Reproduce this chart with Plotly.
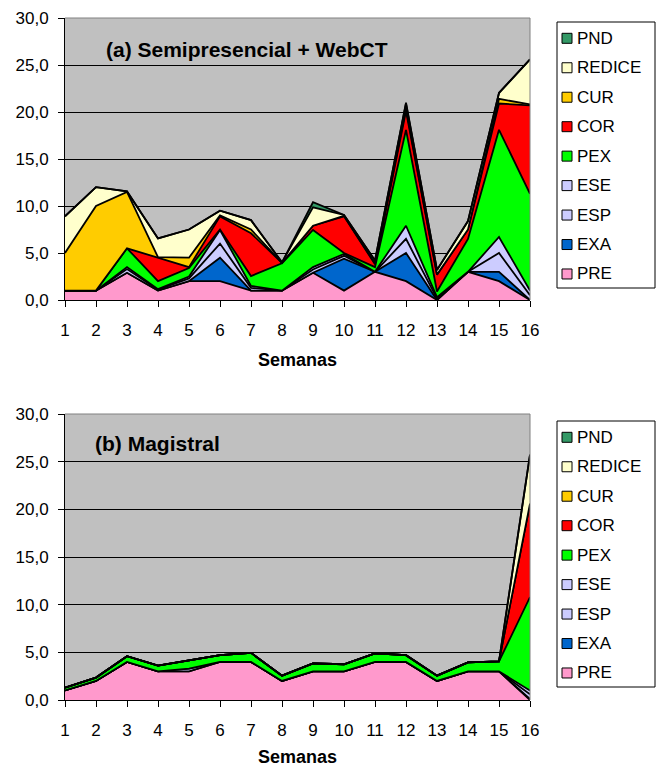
import plotly.graph_objects as go

W, H = 658, 769
FONT = "Liberation Sans, Arial, sans-serif"

weeks = list(range(1, 17))
week_labels = [str(w) for w in weeks]
y_ticks = [0, 5, 10, 15, 20, 25, 30]

series_names = ["PRE", "EXA", "ESP", "ESE", "PEX", "COR", "CUR", "REDICE", "PND"]
series_colors = ["#FF99CC", "#0066CC", "#CCCCFF", "#CCCCFF", "#00FF00",
                 "#FF0000", "#FFCC00", "#FFFFCC", "#339966"]

# (a) Semipresencial + WebCT
a_PRE = [1, 1, 2.9, 1, 2, 2, 1, 1, 2.9, 1, 3, 2, 0, 3, 2, 0]
a_EXA = [0, 0, 0, 0, 0, 2.5, 0, 0, 0, 3.4, 0, 3, 0, 0, 1, 0]
a_ESP = [0, 0, 0.4, 0.1, 0.3, 1.5, 0.3, 0, 0.35, 0.3, 0, 1.5, 0.15, 0, 2, 0.5]
a_ESE = [0, 0, 0.2, 0.05, 0.2, 1.45, 0.2, 0, 0.25, 0.2, 0, 1.4, 0.15, 0, 1.7, 0.5]
a_PEX = [0, 0, 2.0, 0.85, 0.9, 0.05, 1.05, 2.9, 3.95, 0.1, 0.5, 10.2, 0.6, 3.5, 11.4, 10.3]
a_COR = [0, 0, 0, 2.5, 0.1, 1.4, 4.55, 0.05, 0.45, 3.9, 0.3, 2.0, 1.8, 1.0, 2.8, 9.4]
a_CUR = [4, 9, 6.0, 0.05, 1.0, 0.1, 0.4, 0, 0, 0.05, 0.1, 0.3, 0, 0, 0.5, 0.1]
a_REDICE = [3.9, 2, 0.05, 2.0, 3.0, 0.5, 1.0, 0.05, 1.95, 0.1, 0.3, 0.5, 0.5, 0.9, 0.6, 4.8]
a_PND = [0, 0, 0, 0, 0, 0, 0, 0, 0.55, 0, 0, 0.1, 0, 0, 0.05, 0]

# (b) Magistral
b_PRE = [1, 2, 4, 3, 3, 4, 4, 2, 3, 3, 4, 4, 2, 3, 3, 0]
b_EXA = [0, 0, 0, 0, 0, 0, 0, 0, 0, 0, 0, 0, 0, 0, 0, 0.1]
b_ESP = [0, 0, 0, 0, 0.3, 0, 0, 0, 0, 0, 0, 0, 0, 0, 0, 0.5]
b_ESE = [0, 0, 0, 0, 0, 0, 0, 0, 0, 0, 0, 0, 0, 0, 0, 0.4]
b_PEX = [0.3, 0.35, 0.6, 0.6, 0.85, 0.7, 0.95, 0.55, 0.85, 0.75, 0.9, 0.7, 0.55, 0.95, 1.05, 9.8]
b_COR = [0, 0, 0, 0, 0, 0, 0, 0, 0, 0, 0, 0, 0, 0, 0, 9.8]
b_CUR = [0, 0, 0, 0, 0, 0, 0, 0, 0, 0, 0, 0, 0, 0, 0, 0]
b_REDICE = [0, 0, 0, 0, 0, 0, 0, 0, 0, 0, 0, 0, 0, 0, 0, 5.1]
b_PND = [0, 0, 0, 0, 0, 0, 0, 0, 0, 0, 0, 0, 0, 0, 0, 0.05]

data_a = [a_PRE, a_EXA, a_ESP, a_ESE, a_PEX, a_COR, a_CUR, a_REDICE, a_PND]
data_b = [b_PRE, b_EXA, b_ESP, b_ESE, b_PEX, b_COR, b_CUR, b_REDICE, b_PND]

titles = ["(a) Semipresencial + WebCT", "(b) Magistral"]


def px_x(v):
    return v / W


def px_y(v):
    return 1 - v / H


fig = go.Figure()

for name, color, vals in zip(series_names, series_colors, data_a):
    fig.add_trace(go.Scatter(
        x=weeks, y=vals, name=name, stackgroup="a", mode="lines",
        line=dict(color="black", width=1.8), fillcolor=color,
        xaxis="x", yaxis="y", showlegend=False, hoverinfo="skip"))

for name, color, vals in zip(series_names, series_colors, data_b):
    fig.add_trace(go.Scatter(
        x=weeks, y=vals, name=name, stackgroup="b", mode="lines",
        line=dict(color="black", width=1.8), fillcolor=color,
        xaxis="x2", yaxis="y2", showlegend=False, hoverinfo="skip"))

# plot areas (pixel boxes)
panels = [
    dict(left=65, right=530, top=18, bottom=300),
    dict(left=65, right=530, top=414, bottom=700),
]

xa = dict(range=[1, 16], tickvals=weeks, ticktext=week_labels, ticks="outside",
          ticklen=6, tickcolor="black", showline=True, linecolor="black",
          linewidth=1, showgrid=False, zeroline=False, fixedrange=True,
          tickfont=dict(family=FONT, size=17, color="black"),
          ticklabelstandoff=9, automargin=False)
ya = dict(range=[0, 30], tickvals=y_ticks, tickformat=".1f", ticks="outside",
          ticklen=6, tickcolor="black", showline=True, linecolor="black",
          linewidth=1, showgrid=True, gridcolor="black", gridwidth=1,
          zeroline=False, fixedrange=True,
          tickfont=dict(family=FONT, size=17, color="black"),
          ticklabelstandoff=6, automargin=False)

layout = dict(
    width=W, height=H, margin=dict(l=0, r=0, t=0, b=0),
    paper_bgcolor="white", plot_bgcolor="#C0C0C0",
    separators=",.", showlegend=False,
    font=dict(family=FONT, color="black"),
)
p0, p1 = panels
layout["xaxis"] = dict(xa, domain=[px_x(p0["left"]), px_x(p0["right"])], anchor="y")
layout["yaxis"] = dict(ya, domain=[px_y(p0["bottom"]), px_y(p0["top"])], anchor="x")
layout["xaxis2"] = dict(xa, domain=[px_x(p1["left"]), px_x(p1["right"])], anchor="y2")
layout["yaxis2"] = dict(ya, domain=[px_y(p1["bottom"]), px_y(p1["top"])], anchor="x2")
fig.update_layout(**layout)

shapes = []
annotations = []
for i in range(2):
    p = panels[i]
    # plot border (gray) on top and right sides
    shapes.append(dict(type="path", xref="paper", yref="paper",
                       path=(f"M {px_x(p['left'])} {px_y(p['top'])} "
                             f"L {px_x(p['right'])} {px_y(p['top'])} "
                             f"L {px_x(p['right'])} {px_y(p['bottom'])}"),
                       line=dict(color="#808080", width=1), layer="above"))
    # chart title inside plot
    annotations.append(dict(text=f"<b>{titles[i]}</b>", xref="paper", yref="paper",
                            x=px_x(104 if i == 0 else 93), y=px_y(49 if i == 0 else 443),
                            xanchor="left", yanchor="middle", showarrow=False,
                            font=dict(family=FONT, size=21, color="black")))
    # x axis title
    annotations.append(dict(text="<b>Semanas</b>", xref="paper", yref="paper",
                            x=px_x((p["left"] + p["right"]) / 2),
                            y=px_y(360 if i == 0 else 757),
                            xanchor="center", yanchor="middle", showarrow=False,
                            font=dict(family=FONT, size=18, color="black")))
    # legend box
    off = 0 if i == 0 else 399
    shapes.append(dict(type="rect", xref="paper", yref="paper",
                       x0=px_x(557), x1=px_x(655), y0=px_y(288 + off), y1=px_y(22 + off),
                       line=dict(color="black", width=1), fillcolor="white", layer="below"))
    legend_order = list(range(len(series_names)))[::-1]
    for k, si in enumerate(legend_order):
        cy = 38.3 + k * 29.46 + off
        shapes.append(dict(type="rect", xref="paper", yref="paper",
                           x0=px_x(562), x1=px_x(572), y0=px_y(cy + 5), y1=px_y(cy - 5),
                           line=dict(color="black", width=1),
                           fillcolor=series_colors[si], layer="above"))
        annotations.append(dict(text=series_names[si], xref="paper", yref="paper",
                                x=px_x(575), y=px_y(cy), xanchor="left", yanchor="middle",
                                showarrow=False,
                                font=dict(family=FONT, size=17, color="black")))

fig.update_layout(shapes=shapes, annotations=annotations)

fig.write_html("out.html")
